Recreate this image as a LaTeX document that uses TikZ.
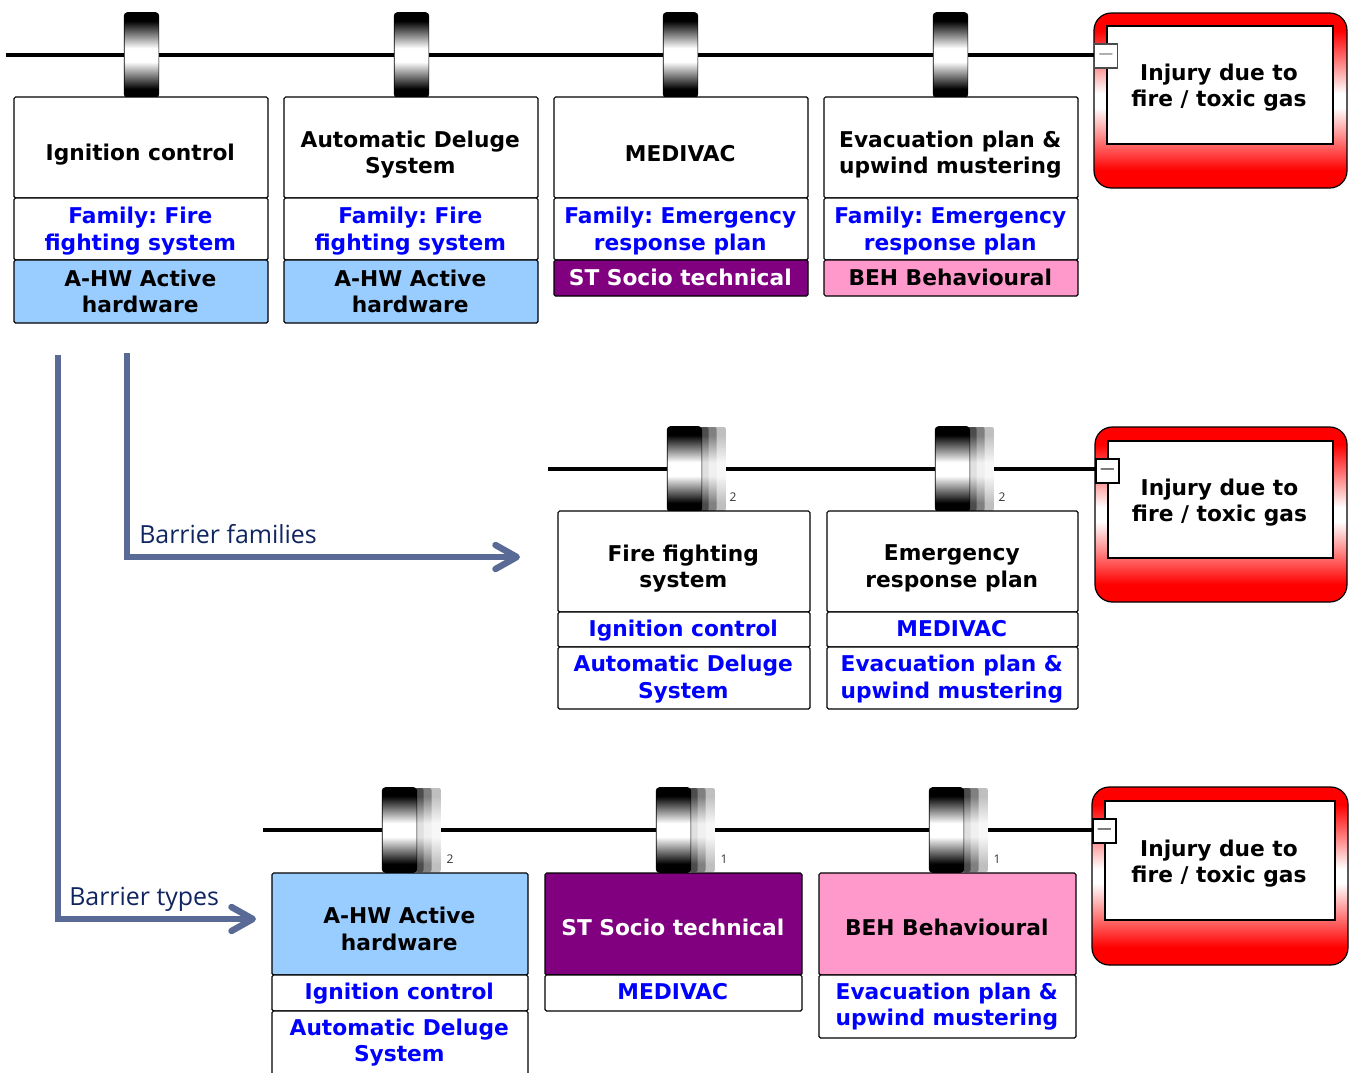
\documentclass[tikz,border=0pt]{standalone}
\usepackage{fontspec}
\setmainfont{DejaVu Sans}
\newfontfamily\labelfont{Open Sans}
\usetikzlibrary{arrows.meta}
\frenchspacing
\definecolor{ahw}{HTML}{99CCFF}
\definecolor{stp}{HTML}{800080}
\definecolor{beh}{HTML}{FF99CC}
\definecolor{arrowc}{HTML}{5A6A96}
\definecolor{labelc}{HTML}{102560}
\pgfdeclareverticalshading{threatshade}{100bp}{color(0bp)=(red);color(30bp)=(red);color(48bp)=(white);color(52bp)=(white);color(70bp)=(red);color(100bp)=(red)}
\pgfdeclareverticalshading{barshade}{100bp}{color(0bp)=(black);color(30bp)=(black);color(46bp)=(white);color(54bp)=(white);color(70bp)=(black);color(100bp)=(black)}
\pgfdeclareverticalshading{stripeA}{100bp}{color(0bp)=(black!70);color(30bp)=(black!70);color(46bp)=(black!12);color(54bp)=(black!12);color(70bp)=(black!70);color(100bp)=(black!70)}
\pgfdeclareverticalshading{stripeB}{100bp}{color(0bp)=(black!50);color(30bp)=(black!50);color(46bp)=(black!6);color(54bp)=(black!6);color(70bp)=(black!50);color(100bp)=(black!50)}
\pgfdeclareverticalshading{stripeC}{100bp}{color(0bp)=(black!25);color(30bp)=(black!25);color(46bp)=(black!3);color(54bp)=(black!3);color(70bp)=(black!25);color(100bp)=(black!25)}
\tikzset{
  x=0.75pt,y=-0.75pt,
  cell/.style={draw=black,line width=0.9pt,rounded corners=1.2pt,inner sep=0pt},
  celltext/.style={inner sep=0pt,align=center,font=\fontsize{16.3pt}{20pt}\selectfont\bfseries},
  lane/.style={draw=black,line width=2.6pt},
  barbody/.style={draw=black,line width=0.5pt,inner sep=0pt,rounded corners=2.5pt,minimum width=26pt,minimum height=63.7pt,shade,shading=barshade},
  stripe/.style={inner sep=0pt,rounded corners=1.5pt,minimum height=63pt,shade},
  threatbody/.style={draw=black,line width=0.9pt,rounded corners=13pt,inner sep=0pt,shade,shading=threatshade},
  threatinner/.style={draw=black,line width=0.8pt,fill=white,inner sep=0pt},
  threattext/.style={inner sep=0pt,align=center,font=\fontsize{16.3pt}{19.5pt}\selectfont\bfseries},
  minusbox/.style={draw=black,line width=1pt,fill=white,inner sep=0pt,minimum width=17.25pt,minimum height=18pt,font=\fontsize{11pt}{11pt}\selectfont},
  flow/.style={draw=arrowc,line width=4.8pt,-{Straight Barb[length=16pt,width=18pt,line width=4.8pt,round]}},
  flowlabel/.style={text=labelc,inner sep=0pt,anchor=base west,font=\labelfont\fontsize{18.7pt}{22pt}\selectfont},
  countlabel/.style={inner sep=0pt,text=black!80,font=\labelfont\fontsize{9pt}{10pt}\selectfont},
}
% name, x1, y1, x2, y2, fill, text colour, text dy, text
\newcommand{\cellbox}[9]{%
  \pgfmathsetmacro{\cw}{(#4-#2)*0.75}\pgfmathsetmacro{\ch}{(#5-#3)*0.75}%
  \node[cell,fill=#6,minimum width=\cw pt,minimum height=\ch pt] (#1) at ({(#2+#4)/2},{(#3+#5)/2}) {};
  \node[celltext,text=#7] (#1t) at ({(#2+#4)/2-0.7},{(#3+#5)/2+#8}) {#9};}
\newcommand{\barbox}[3]{\node[barbody] (#1) at (#2,#3) {};}
\newcommand{\stripes}[3]{%
  \node[stripe,shading=stripeC,minimum width=18.5pt] (#1c) at (#2+29,#3) {};
  \node[stripe,shading=stripeB,minimum width=12pt] (#1b) at (#2+24,#3) {};
  \node[stripe,shading=stripeA,minimum width=6pt] (#1a) at (#2+20,#3) {};}
% name, x1,y1,x2,y2, inner x1,y1,x2,y2
\newcommand{\threatbox}[9]{%
  \pgfmathsetmacro{\tw}{(#4-#2)*0.75}\pgfmathsetmacro{\th}{(#5-#3)*0.75}%
  \node[threatbody,minimum width=\tw pt,minimum height=\th pt] (#1) at ({(#2+#4)/2},{(#3+#5)/2}) {};
  \pgfmathsetmacro{\tw}{(#8-#6)*0.75}\pgfmathsetmacro{\th}{(#9-#7)*0.75}%
  \node[threatinner,minimum width=\tw pt,minimum height=\th pt] (#1i) at ({(#6+#8)/2},{(#7+#9)/2}) {};
  \node[threattext] (#1t) at ({(#6+#8)/2-1},{(#7+#9)/2+3}) {Injury due to\\fire / toxic gas};}
\begin{document}
\begin{tikzpicture}
\useasboundingbox (0,0) rectangle (1352,1072);
\clip (0,0) rectangle (1352,1072);
\fill[white] (0,0) rectangle (1352,1072);

% ---------- row 1 ----------
\coordinate (s1) at (6,55);
\barbox{a1}{141.5}{55}
\barbox{a2}{411.5}{55}
\barbox{a3}{680.5}{55}
\barbox{a4}{950.5}{55}
\threatbox{t1}{1094}{13}{1347}{188}{1107}{26}{1333}{144}
\node[minusbox,draw=black!70,text=black!60] (m1) at (1106,56) {—};
\draw[lane] (s1) -- (a1.west) (a1.east) -- (a2.west) (a2.east) -- (a3.west) (a3.east) -- (a4.west) (a4.east) -- (a4.east -| m1.west);

\cellbox{c11}{14}{97}{268}{198}{white}{black}{7}{Ignition control}
\cellbox{c12}{14}{198}{268}{260}{white}{blue}{2}{Family: Fire\\fighting system}
\cellbox{c13}{14}{260}{268}{323}{ahw}{black}{0}{A-HW Active\\hardware}
\cellbox{c21}{284}{97}{538}{198}{white}{black}{7}{Automatic Deluge\\System}
\cellbox{c22}{284}{198}{538}{260}{white}{blue}{2}{Family: Fire\\fighting system}
\cellbox{c23}{284}{260}{538}{323}{ahw}{black}{0}{A-HW Active\\hardware}
\cellbox{c31}{554}{97}{808}{198}{white}{black}{6}{MEDIVAC}
\cellbox{c32}{554}{198}{808}{260}{white}{blue}{2}{Family: Emergency\\response plan}
\cellbox{c33}{554}{260}{808}{296}{stp}{white}{-1}{ST Socio technical}
\cellbox{c41}{824}{97}{1078}{198}{white}{black}{7}{Evacuation plan \&\\upwind mustering}
\cellbox{c42}{824}{198}{1078}{260}{white}{blue}{2}{Family: Emergency\\response plan}
\cellbox{c43}{824}{260}{1078}{296}{beh}{black}{-1}{BEH Behavioural}

% ---------- row 2 ----------
\coordinate (s2) at (548,469);
\stripes{f1}{684.5}{469}
\barbox{b1}{684.5}{469}
\stripes{f2}{952.5}{469}
\barbox{b2}{952.5}{469}
\threatbox{t2}{1095}{427}{1347}{602}{1108}{441}{1333}{558}
\node[minusbox] (m2) at (1107.5,471) {—};
\draw[lane] (s2) -- (b1.west) (f1c.east) -- (b2.west) (f2c.east) -- (f2c.east -| m2.west);
\node[countlabel] (n1) at (733,497) {2};
\node[countlabel] (n2) at (1002,497) {2};

\cellbox{d11}{558}{511}{810}{612}{white}{black}{7}{Fire fighting\\system}
\cellbox{d12}{558}{612}{810}{647}{white}{blue}{1}{Ignition control}
\cellbox{d13}{558}{647}{810}{709}{white}{blue}{1}{Automatic Deluge\\System}
\cellbox{d21}{827}{511}{1078}{612}{white}{black}{7}{Emergency\\response plan}
\cellbox{d22}{827}{612}{1078}{647}{white}{blue}{-1}{MEDIVAC}
\cellbox{d23}{827}{647}{1078}{709}{white}{blue}{1}{Evacuation plan \&\\upwind mustering}

% ---------- row 3 ----------
\coordinate (s3) at (263,830);
\stripes{g1}{399.5}{830}
\barbox{e1}{399.5}{830}
\stripes{g2}{673.5}{830}
\barbox{e2}{673.5}{830}
\stripes{g3}{946.5}{830}
\barbox{e3}{946.5}{830}
\threatbox{t3}{1092}{787}{1348}{965}{1105}{801}{1335}{920}
\node[minusbox] (m3) at (1104.5,831) {—};
\draw[lane] (s3) -- (e1.west) (g1c.east) -- (e2.west) (g2c.east) -- (e3.west) (g3c.east) -- (g3c.east -| m3.west);
\node[countlabel] (n3) at (450,859) {2};
\node[countlabel] (n4) at (724,859) {1};
\node[countlabel] (n5) at (997,859) {1};

\cellbox{h11}{272}{873}{528}{975}{ahw}{black}{5}{A-HW Active\\hardware}
\cellbox{h12}{272}{975}{528}{1011}{white}{blue}{1}{Ignition control}
\cellbox{h13}{272}{1011}{528}{1090}{white}{blue}{-8}{Automatic Deluge\\System}
\cellbox{h21}{545}{873}{802}{975}{stp}{white}{3}{ST Socio technical}
\cellbox{h22}{545}{975}{802}{1011}{white}{blue}{-1}{MEDIVAC}
\cellbox{h31}{819}{873}{1076}{975}{beh}{black}{3}{BEH Behavioural}
\cellbox{h32}{819}{975}{1076}{1038}{white}{blue}{0}{Evacuation plan \&\\upwind mustering}

% ---------- flow arrows ----------
\coordinate (p1) at (127,353);
\coordinate (q1) at (127,557);
\coordinate (r1) at (520,557);
\coordinate (p2) at (58,355);
\coordinate (q2) at (58,919);
\coordinate (r2) at (256,919);
\draw[flow] (p1) -- (q1) -- (r1);
\draw[flow] (p2) -- (q2) -- (r2);
\node[flowlabel] (lf) at (139,543) {Barrier families};
\node[flowlabel] (lt) at (69,905) {Barrier types};
\end{tikzpicture}
\end{document}
